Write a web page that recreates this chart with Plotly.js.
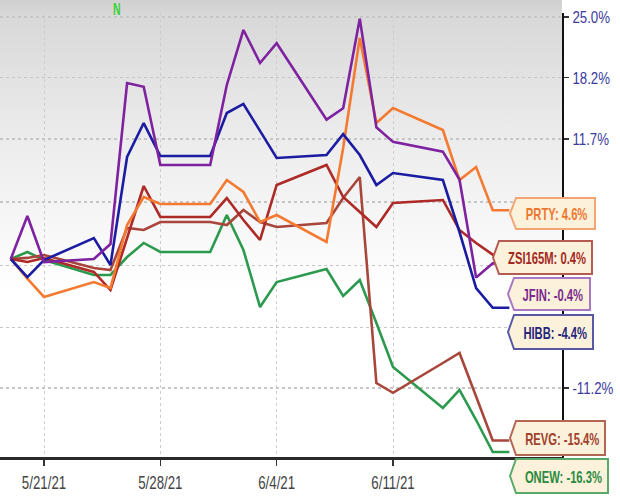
<!DOCTYPE html>
<html>
<head>
<meta charset="utf-8">
<script src="https://cdn.plot.ly/plotly-3.0.1.min.js"></script>
<style>
  html, body { margin: 0; padding: 0; background: #fff; }
  #chart { width: 620px; height: 498px; }
</style>
</head>
<body>
<div id="chart"></div>
<script>
// ---- data (percent change since 5/19/21) ----
const dates = ['2021-05-19','2021-05-20','2021-05-21','2021-05-24','2021-05-25','2021-05-26','2021-05-27','2021-05-28','2021-05-31','2021-06-01','2021-06-02','2021-06-03','2021-06-04','2021-06-07','2021-06-08','2021-06-09','2021-06-10','2021-06-11','2021-06-14','2021-06-15','2021-06-16','2021-06-17','2021-06-18'];

const PRTY    = [0, -1.8, -3.44, -2.1, -2.64, 3.18, 5.88, 5.2, 5.2, 7.55, 6.37, 3.47, 4.14, 1.58, 10.77, 22.6, 13.35, 14.93, 12.62, 7.55, 8.85, 4.6, 4.6];
const ZSI165M = [0, -0.28, 0.09, -1.19, -2.82, 2.05, 6.96, 3.95, 3.95, 5.78, 3.66, 1.77, 7.06, 9.05, 5.88, 4.43, 2.99, 5.30, 5.59, 2.71, 1.49, 0.4, 0.4];
const JFIN    = [0, 4.04, -0.28, 0, 1.39, 17.6, 17.2, 9.05, 9.05, 17.4, 23.5, 19.8, 22.0, 13.7, 14.9, 24.8, 12.9, 11.4, 10.4, 7.6, -1.7, -0.4, -0.4];
const HIBB    = [0, -1.65, -0.1, 1.95, -0.55, 9.86, 13.35, 9.96, 9.96, 14.4, 15.36, 12.5, 9.76, 10.06, 12.2, 10.06, 7.06, 8.25, 7.55, 2.52, -2.64, -4.4, -4.4];
const REVG    = [0, 0.1, 0.37, -0.83, -1.01, 2.9, 2.71, 3.47, 3.47, 3.18, 4.62, 3.47, 2.99, 3.37, 5.78, 7.85, -10.8, -11.6, -9.14, -8.3, -11.9, -15.4, -15.4];
const ONEW    = [0, 0.65, -0.09, -1.46, -1.46, 0.18, 1.49, 0.65, 0.65, 4.14, 0.83, -4.33, -2.1, -0.92, -3.35, -1.92, -5.73, -9.47, -12.83, -11.37, -13.79, -16.3, -16.3];

const seriesNames = ['PRTY', 'ZSI165M', 'JFIN', 'HIBB', 'REVG', 'ONEW'];
const yTickPercents = [25.0, 18.2, 11.7, 5.4, -0.6, -6.1, -11.2];
const yTickShown    = [true, true, true, false, false, false, true];   // the others sit under the value labels
const xTickDates = ['2021-05-21', '2021-05-28', '2021-06-04', '2021-06-11'];
const xTickLabels = ['5/21/21', '5/28/21', '6/4/21', '6/11/21'];

// ---- styling ----
const seriesData = {PRTY, ZSI165M, JFIN, HIBB, REVG, ONEW};
const lineColors = {PRTY:'#f47a32', ZSI165M:'#ad2a26', JFIN:'#7e22a0', HIBB:'#1c1ca2', REVG:'#a8463c', ONEW:'#2b9a4e'};
const textColors = {PRTY:'#ec7630', ZSI165M:'#a3281f', JFIN:'#7a2a8e', HIBB:'#26267c', REVG:'#a0402e', ONEW:'#2a8a42'};
const borderColors = {PRTY:'#f2a472', ZSI165M:'#b65a52', JFIN:'#a878c4', HIBB:'#5858a6', REVG:'#b46654', ONEW:'#5aa86a'};
const drawOrder = ['ONEW', 'REVG', 'ZSI165M', 'PRTY', 'HIBB', 'JFIN'];

const traces = drawOrder.map(name => ({
  type: 'scatter', mode: 'lines', name: name,
  x: dates,
  y: seriesData[name].map(v => 1 + v / 100),
  line: {color: lineColors[name], width: 2.6},
  hoverinfo: 'skip'
}));

// plot area geometry in pixels
const W = 620, H = 498, L = 0, R = 58, T = 13, B = 41;
const PW = W - L - R, PH = H - T - B;
const px = x => (x - L) / PW;
const py = y => (H - B - y) / PH;

const FONT = "'Liberation Sans', Arial, sans-serif";

// label boxes (pixel layout)
const labelBoxes = [
  {name:'PRTY',    tip:510, left:516, right:595, top:198, bot:229},
  {name:'ZSI165M', tip:493, left:499, right:592, top:241, bot:274},
  {name:'JFIN',    tip:508, left:514, right:590, top:278, bot:310},
  {name:'HIBB',    tip:508, left:514, right:593, top:315, bot:349},
  {name:'REVG',    tip:510, left:516, right:605, top:421, bot:455},
  {name:'ONEW',    tip:510, left:516, right:608, top:459, bot:493}
];

const shapes = [];
const annotations = [];
labelBoxes.forEach(b => {
  const mid = (b.top + b.bot) / 2;
  const pts = [[b.tip, mid], [b.left, b.top], [b.right, b.top], [b.right, b.bot], [b.left, b.bot]];
  const path = 'M' + pts.map(p => px(p[0]).toFixed(5) + ',' + py(p[1]).toFixed(5)).join(' L') + ' Z';
  shapes.push({type:'path', xref:'paper', yref:'paper', path: path,
    fillcolor:'#fcf1da', line:{color: borderColors[b.name], width: 2}, layer:'above'});
  const data = seriesData[b.name];
  const last = data[data.length - 1];
  annotations.push({xref:'paper', yref:'paper', x: px((b.left + b.right) / 2 + 1), y: py(mid + 1),
    xanchor:'center', yanchor:'middle', showarrow:false,
    text: '<b>' + b.name + ': ' + last.toFixed(1) + '%</b>',
    font:{family: FONT, size: 17, color: textColors[b.name]}});
});
// "N" event marker
annotations.push({xref:'paper', yref:'paper', x: px(117), y: py(9), xanchor:'center', yanchor:'middle',
  showarrow:false, text:'<b>N</b>', font:{family: FONT, size: 16, color:'#3ad23a'}});

const grad = "data:image/svg+xml;utf8," + encodeURIComponent(
  "<svg xmlns='http://www.w3.org/2000/svg' width='10' height='100' preserveAspectRatio='none'>" +
  "<defs><linearGradient id='g' x1='0' y1='0' x2='0' y2='1'>" +
  "<stop offset='0' stop-color='#d0d0d0'/><stop offset='0.05' stop-color='#d8d8d8'/>" +
  "<stop offset='0.45' stop-color='#ebebeb'/><stop offset='1' stop-color='#ffffff'/>" +
  "</linearGradient></defs><rect width='10' height='100' fill='url(#g)'/></svg>");

const layout = {
  width: W, height: H,
  margin: {l: L, r: R, t: T, b: B, pad: 0},
  paper_bgcolor: '#ffffff',
  plot_bgcolor: 'rgba(0,0,0,0)',
  showlegend: false,
  images: [{source: grad, xref:'paper', yref:'paper', x: 0, y: py(0), sizex: 1, sizey: py(0) - py(290),
    xanchor:'left', yanchor:'top', sizing:'stretch', layer:'below'}],
  xaxis: {
    type: 'date',
    range: ['2021-05-18 08:28', '2021-06-21 04:02'],
    tickmode: 'array', tickvals: xTickDates, ticktext: xTickLabels,
    ticks: 'outside', ticklen: 6, tickwidth: 1.5, tickcolor: '#333',
    tickfont: {family: FONT, size: 19, color: '#444'},
    showline: true, linecolor: '#2a2a2a', linewidth: 3,
    showgrid: true, gridcolor: '#cdcdcd', griddash: '3px,3px', gridwidth: 1,
    zeroline: false, fixedrange: true
  },
  yaxis: {
    type: 'log', side: 'right',
    range: [-0.079254, 0.098467],
    tickmode: 'array',
    tickvals: yTickPercents.map(v => 1 + v / 100),
    ticktext: yTickPercents.map((v, i) => yTickShown[i] ? v.toFixed(1) + '%' : ''),
    ticks: 'outside', ticklen: 5, tickwidth: 1.5, tickcolor: '#333',
    tickfont: {family: FONT, size: 17, color: '#3b3b9c'},
    showline: true, linecolor: '#111', linewidth: 2,
    showgrid: true, gridcolor: '#c6c6c6', griddash: '3px,3px', gridwidth: 1.5,
    zeroline: false, fixedrange: true
  },
  shapes: shapes,
  annotations: annotations
};

// condense text horizontally, like the tall narrow lettering of the original
function squeeze(selector, s) {
  document.querySelectorAll(selector).forEach(el => {
    const bb = el.getBBox();
    const anchor = el.getAttribute('text-anchor');
    let ox = bb.x + bb.width / 2;
    if (anchor === 'start') ox = bb.x;
    else if (anchor === 'end') ox = bb.x + bb.width;
    const t = el.getAttribute('transform') || '';
    el.setAttribute('transform', t + ' translate(' + ox + ',0) scale(' + s + ',1) translate(' + (-ox) + ',0)');
  });
}

Plotly.newPlot('chart', traces, layout, {displayModeBar: false, staticPlot: true}).then(() => {
  squeeze('g.xtick text', 0.7);
  squeeze('g.ytick text', 0.78);
  squeeze('g.annotation text', 0.66);
});
</script>
</body>
</html>
